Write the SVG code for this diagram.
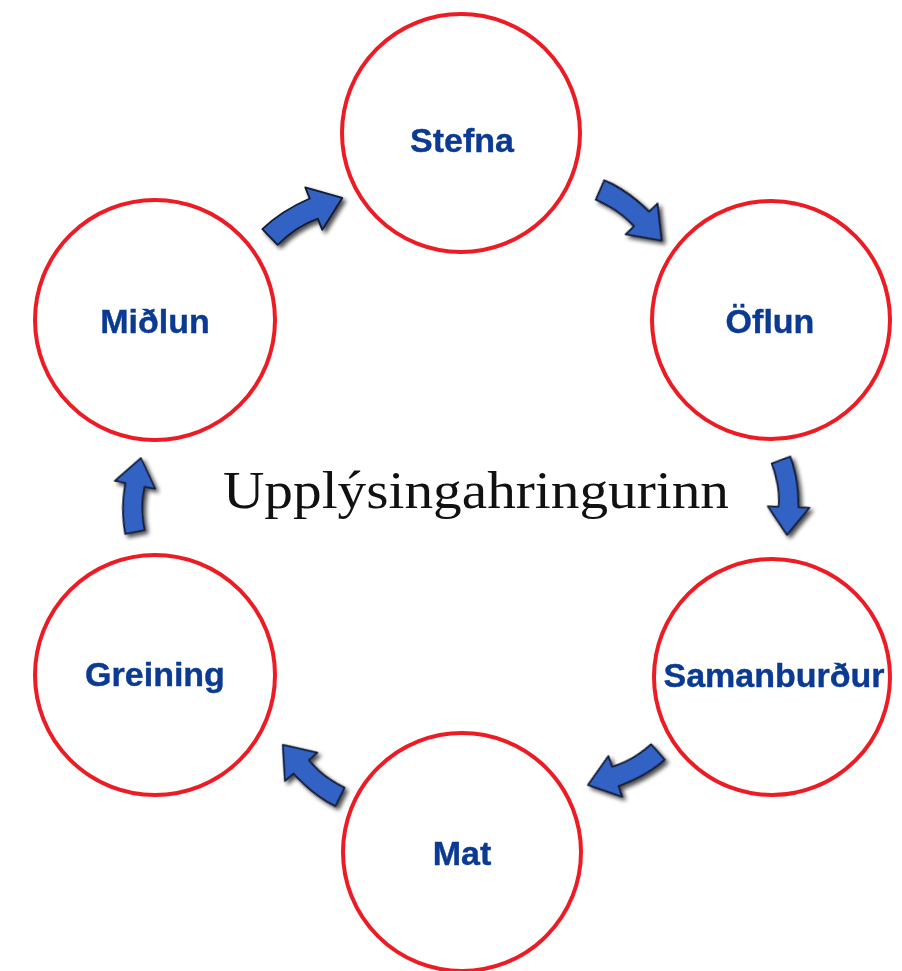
<svg xmlns="http://www.w3.org/2000/svg" width="902" height="971" viewBox="0 0 902 971">
<style>
.ring{fill:#fff;stroke:#ed1c24;stroke-width:4}
.lbl{font-family:"Liberation Sans",Arial,sans-serif;font-weight:bold;font-size:34px;fill:#0a3a92;text-anchor:middle;stroke:#0a3a92;stroke-width:0.4}
.title{font-family:"Liberation Serif","Times New Roman",serif;font-size:53px;fill:#111}
.arr{fill:#3063c4;stroke:#151a33;stroke-width:1.8;stroke-linejoin:round}
</style>
<defs>
<filter id="sh" x="-30%" y="-30%" width="160%" height="160%">
<feGaussianBlur in="SourceAlpha" stdDeviation="2.2"/>
<feOffset dx="3" dy="3" result="b"/>
<feComponentTransfer><feFuncA type="linear" slope="0.7"/></feComponentTransfer>
<feMerge><feMergeNode/><feMergeNode in="SourceGraphic"/></feMerge>
</filter>
<path id="ar" d="M-2.9,-10.1 Q21,-17 51.2,-14.4 L52.5,-25.8 L79,0 L47.5,17.8 L48.8,6.4 Q27,3 2.9,10.1 Z"/>
</defs>
<rect width="902" height="971" fill="#fff"/>
<g id="connectors" filter="url(#sh)">
<use href="#ar" class="arr" transform="translate(270,237) rotate(-28.4) scale(1.04)"/>
<use href="#ar" class="arr" transform="translate(600,190) rotate(39.4) scale(1.01)"/>
<use href="#ar" class="arr" transform="translate(781,460) rotate(85.4) scale(0.95)"/>
<use href="#ar" class="arr" transform="translate(658,752) rotate(154.8) scale(0.98)"/>
<use href="#ar" class="arr" transform="translate(340,797) rotate(-137.6) scale(0.98)"/>
<use href="#ar" class="arr" transform="translate(135,532) rotate(-85.4) scale(0.94)"/>
</g>
<g id="stefna"><circle class="ring" cx="461" cy="133" r="119"/><text class="lbl" x="462" y="152">Stefna</text></g>
<g id="oflun"><circle class="ring" cx="771" cy="320" r="119"/><text class="lbl" x="770" y="333">Öflun</text></g>
<g id="samanburdur"><circle class="ring" cx="772" cy="677" r="118"/><text class="lbl" x="774" y="687">Samanburður</text></g>
<g id="mat"><circle class="ring" cx="462" cy="852" r="119"/><text class="lbl" x="462" y="865">Mat</text></g>
<g id="greining"><circle class="ring" cx="155" cy="675" r="120"/><text class="lbl" x="155" y="686">Greining</text></g>
<g id="midlun"><circle class="ring" cx="155" cy="320" r="120"/><text class="lbl" x="155" y="333">Miðlun</text></g>
<g id="title"><text class="title" x="223" y="508" textLength="506" lengthAdjust="spacingAndGlyphs">Upplýsingahringurinn</text></g>
</svg>
